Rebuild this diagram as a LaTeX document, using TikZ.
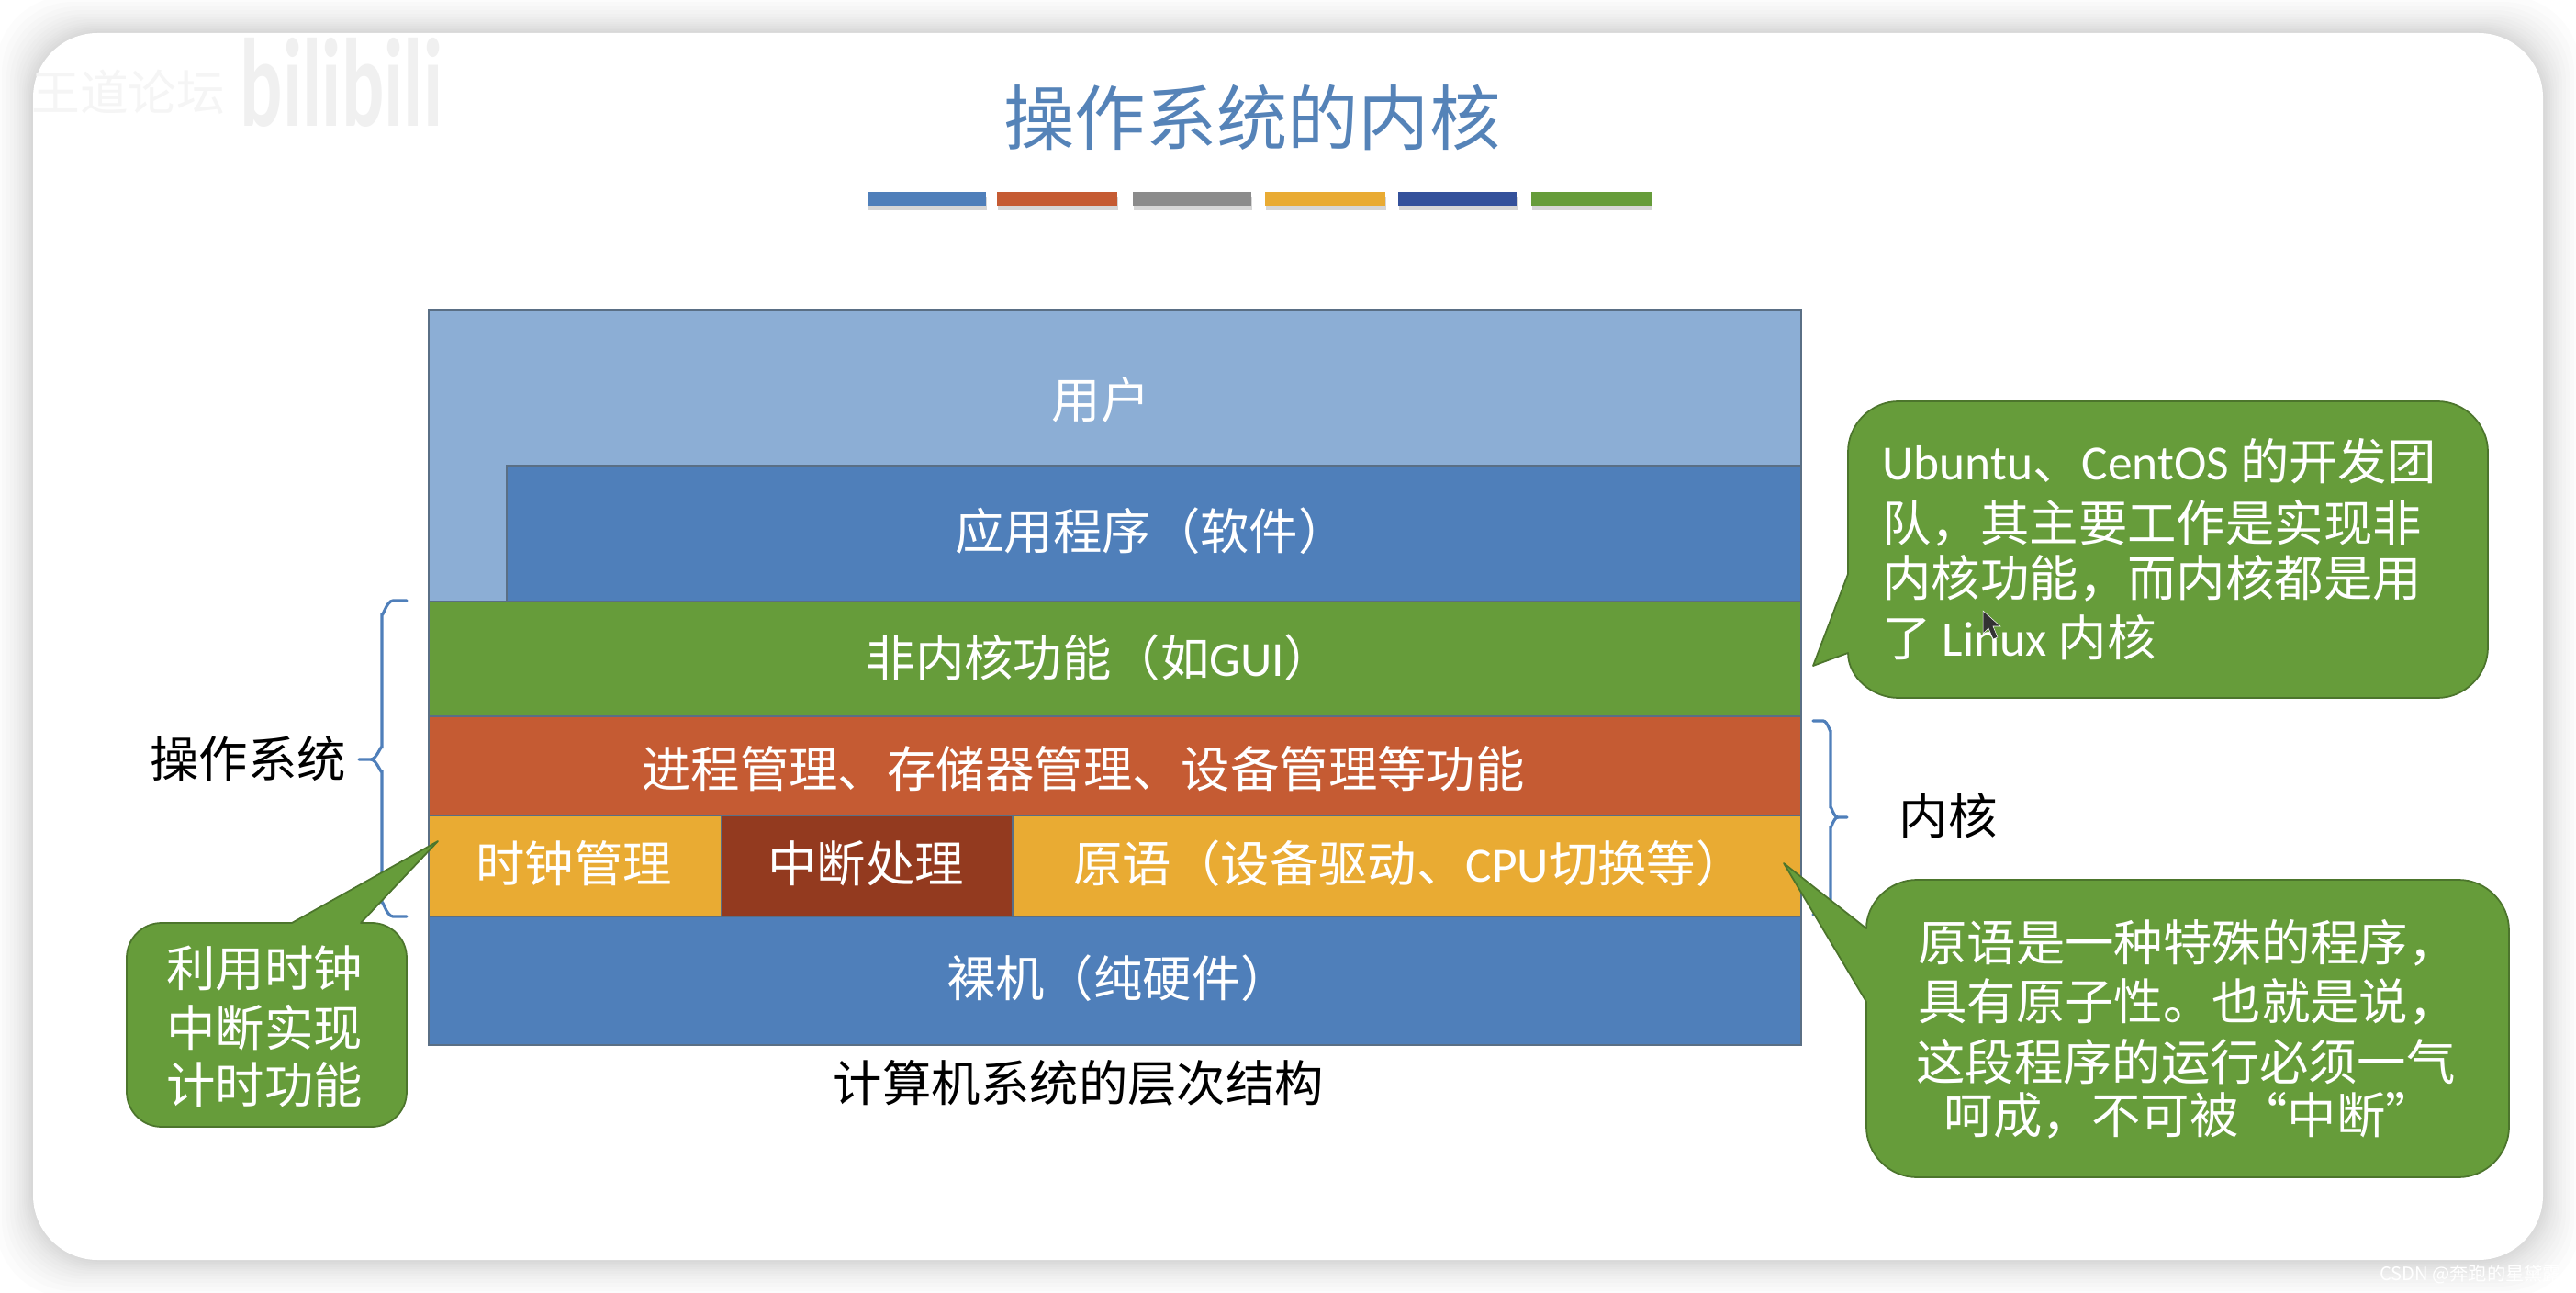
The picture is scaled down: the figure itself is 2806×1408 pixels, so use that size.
\documentclass[tikz,border=0pt]{standalone}
\usepackage{fontspec}
\setmainfont{Noto Sans CJK SC}
\newfontfamily\latfont{Carlito}
\newcommand{\lat}[1]{{\latfont #1}}
\definecolor{cblue}{HTML}{4F7FBA}
\definecolor{clight}{HTML}{8CAED5}
\definecolor{cgreen}{HTML}{669C3A}
\definecolor{cred}{HTML}{C55B33}
\definecolor{cyellow}{HTML}{E9AB33}
\definecolor{cdred}{HTML}{933A1F}
\definecolor{cnavy}{HTML}{34519B}
\definecolor{cgrey}{HTML}{8B8B8B}
\definecolor{ctitle}{HTML}{5583B8}
\definecolor{cline}{HTML}{5A6F85}
\tikzset{
  x=0.02cm,y=-0.02cm,
  layer/.style={draw=cline,line width=.8pt,fill=#1},
  lbl/.style={text=white,font=\fontsize{30.4}{32}\selectfont,inner sep=0pt},
  blk/.style={text=black,font=\fontsize{30.4}{32}\selectfont,inner sep=0pt},
  bar/.style={fill=#1,draw=none},
  barsh/.style={fill=black,opacity=.16,draw=none},
  brc/.style={draw=cblue,line width=1.8pt,line cap=round},
  cal/.style={fill=cgreen,draw=cgreen!75!black,line width=1pt,line join=round},
  caltxt/.style={text=white,font=\fontsize{30.4}{37}\selectfont,inner sep=0pt},
}
\begin{document}
\begin{tikzpicture}
\useasboundingbox (0,0) rectangle (2806,1408);
\fill[white] (0,0) rectangle (2806,1408);
% card shadow
\foreach \d in {40,34,29,25,21,18,15,12,10,8,6,4,2}{
  \fill[black,opacity=.012,rounded corners=44] (36-\d,36-\d) rectangle (2770+\d,1372+\d);
}
\fill[white,rounded corners=40] (36,36) rectangle (2770,1372);
% watermark
\node[inner sep=0pt,text=black!4,font=\fontsize{30}{32}\selectfont] (wm1) at (140,100) {王道论坛};
\node[inner sep=0pt,text=black!6,font=\latfont\bfseries\fontsize{60}{60}\selectfont,xscale=.82,yscale=1.3] (wm2) at (372,90) {bilibili};
\node[inner sep=0pt,text=white,font=\fontsize{11.5}{12}\selectfont] (wm3) at (2691,1388) {CSDN @奔跑的星黛露};
% title
\node[inner sep=0pt,text=ctitle,font=\fontsize{44}{46}\selectfont] (title) at (1364,128) {操作系统的内核};
% colour bars
\foreach \a/\b/\c in {945/1074/cblue,1086/1217/cred,1234/1363/cgrey,1378/1509/cyellow,1523/1652/cnavy,1668/1799/cgreen}{
  \fill[barsh] (\a+1,214) rectangle (\b+1,229);
  \fill[bar=\c] (\a,209) rectangle (\b,224);
}
% layers
\path[layer=clight] (467,338) rectangle (1962,655);
\path[layer=cblue] (552,507) rectangle (1962,655);
\path[layer=cgreen] (467,655) rectangle (1962,780);
\path[layer=cred] (467,780) rectangle (1962,888);
\path[layer=cyellow] (467,888) rectangle (786,998);
\path[layer=cdred] (786,888) rectangle (1103,998);
\path[layer=cyellow] (1103,888) rectangle (1962,998);
\path[layer=cblue] (467,998) rectangle (1962,1138);
\node[lbl] (user) at (1199,435) {用户};
\node[lbl] (app) at (1254,578) {应用程序（软件）};
\node[lbl] (nonk) at (1198,716) {非内核功能（如\lat{GUI}）};
\node[lbl] (proc) at (1180,837) {进程管理、存储器管理、设备管理等功能};
\node[lbl] (clock) at (625,940) {时钟管理};
\node[lbl] (intr) at (943,940) {中断处理};
\node[lbl] (prim) at (1535,940) {原语（设备驱动、\lat{CPU}切换等）};
\node[lbl] (bare) at (1218,1065) {裸机（纯硬件）};
\node[blk] (cap) at (1175,1179) {计算机系统的层次结构};
% braces
\coordinate (bla) at (443,654);
\coordinate (blb) at (443,998);
\coordinate (blm) at (391,827);
\draw[brc] (bla) -- (428,654) to[out=180,in=-90] (416,668) -- (416,815) to[out=90,in=0] (404,827) -- (blm);
\draw[brc] (404,827) to[out=0,in=-90] (416,839) -- (416,984) to[out=90,in=180] (428,998) -- (blb);
\coordinate (bra) at (1975,785);
\coordinate (brb) at (1975,996);
\coordinate (brm) at (2012,890);
\draw[brc] (bra) -- (1986,785) to[out=0,in=-90] (1994,795) -- (1994,880) to[out=90,in=180] (2002,890) -- (brm);
\draw[brc] (2002,890) to[out=180,in=-90] (1994,900) -- (1994,986) to[out=90,in=0] (1986,996) -- (brb);
\node[blk] (os) at (270,826) {操作系统};
\node[blk] (kern) at (2122,888) {内核};
% callouts
\coordinate (tipa) at (477,916);
\draw[cal] (318,1005) -- (tipa) -- (393,1005) -- (405,1005)
  .. controls (426,1005) and (443,1022) .. (443,1043) -- (443,1189)
  .. controls (443,1210) and (426,1227) .. (405,1227) -- (176,1227)
  .. controls (155,1227) and (138,1210) .. (138,1189) -- (138,1043)
  .. controls (138,1022) and (155,1005) .. (176,1005) -- cycle;
\coordinate (tipb) at (1975,725);
\draw[cal] (2013,625) -- (tipb) -- (2013,711)
  .. controls (2013,738) and (2040,760) .. (2068,760) -- (2655,760)
  .. controls (2685,760) and (2710,735) .. (2710,705) -- (2710,492)
  .. controls (2710,462) and (2685,437) .. (2655,437) -- (2068,437)
  .. controls (2038,437) and (2013,462) .. (2013,492) -- cycle;
\coordinate (tipc) at (1943,940);
\draw[cal] (2033,1011) -- (tipc) -- (2033,1091) -- (2033,1227)
  .. controls (2033,1257) and (2058,1282) .. (2088,1282) -- (2678,1282)
  .. controls (2708,1282) and (2733,1257) .. (2733,1227) -- (2733,1013)
  .. controls (2733,983) and (2708,958) .. (2678,958) -- (2088,958)
  .. controls (2058,958) and (2033,983) .. (2033,1011) -- cycle;
\node[caltxt] (t1a) at (288,1054) {利用时钟};
\node[caltxt] (t1b) at (288,1119) {中断实现};
\node[caltxt] (t1c) at (288,1181) {计时功能};
\node[caltxt,anchor=west] (t2a) at (2050,502) {\lat{Ubuntu}、\lat{CentOS} 的开发团};
\node[caltxt,anchor=west] (t2b) at (2050,570) {队，其主要工作是实现非};
\node[caltxt,anchor=west] (t2c) at (2050,630) {内核功能，而内核都是用};
\node[caltxt,anchor=west] (t2d) at (2050,694) {了 \lat{Linux} 内核};
\node[caltxt] (t3a) at (2383,1027) {原语是一种特殊的程序，};
\node[caltxt] (t3b) at (2383,1091) {具有原子性。也就是说，};
\node[caltxt] (t3c) at (2381,1156) {这段程序的运行必须一气};
\node[caltxt] (t3d) at (2385,1215) {呵成，不可被“中断”};
% cursor
\fill[black!80,draw=white,line width=.3pt] (2160,665) -- (2160,690) -- (2166,684) -- (2171,696) -- (2176,694) -- (2171,682) -- (2179,682) -- cycle;
\end{tikzpicture}
\end{document}
